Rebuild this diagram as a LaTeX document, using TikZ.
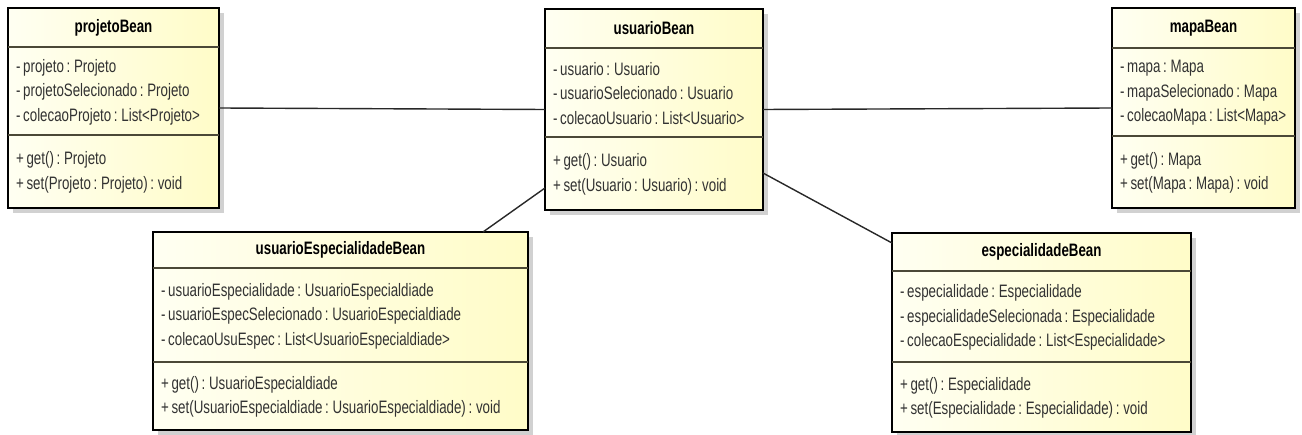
\documentclass[tikz,border=0pt]{standalone}
\usepackage{fontspec}
\setmainfont{Liberation Sans}[FakeStretch=0.74, WordSpace=0.7]
\usetikzlibrary{calc}

\definecolor{boxleft}{RGB}{255,255,242}
\definecolor{boxright}{RGB}{255,252,200}
\definecolor{membercol}{RGB}{50,50,50}
\definecolor{linkcol}{RGB}{40,40,40}
\definecolor{sepcol}{RGB}{75,72,55}

\tikzset{
  classbox/.style={draw=black, line width=2.4pt, inner sep=0pt, outer sep=0pt,
    left color=boxleft, right color=boxright},
  shadowbox/.style={fill=black!18},
  sepline/.style={draw=sepcol, line width=1.4pt},
  titletext/.style={font={\fontsize{18}{20}\selectfont\bfseries}, text=black, inner sep=0pt},
  membertext/.style={font={\fontsize{18}{24.5}\selectfont}, text=membercol, inner sep=0pt,
    align=left, anchor=west},
  assoc/.style={draw=linkcol, line width=1.4pt},
}

% class box: name, x1, y1, x2, y2, header separator y, attribute separator y
\newcommand{\classframe}[7]{%
  \fill[shadowbox] ({#2+5},{#3+5}) rectangle ({#4+5},{#5+5});
  \node[classbox, minimum width={#4-#2}, minimum height={#5-#3}] (#1)
    at ({(#2+#4)/2},{(#3+#5)/2}) {};
  \draw[sepline] (#2,#6) -- (#4,#6);
  \draw[sepline] (#2,#7) -- (#4,#7);
  \coordinate (#1-t) at ({(#2+#4)/2},{(#3+#6)/2});
  \coordinate (#1-a) at ({#2+8},{(#6+#7)/2+1});
  \coordinate (#1-o) at ({#2+8},{(#7+#5)/2+1});
}

\begin{document}
\begin{tikzpicture}[x=1pt, y=-1pt]
  \useasboundingbox[fill=white] (0,0) rectangle (1302,435);

  % geometry of the five classes
  \classframe{pb}{8}{8}{219}{208}{47}{135}
  \classframe{ub}{545}{9}{763}{210}{48}{137}
  \classframe{mb}{1112}{8}{1295}{208}{48}{136}
  \classframe{ue}{153}{232}{528}{430}{268}{362}
  \classframe{es}{892}{233}{1191}{432}{271}{362}

  % associations
  \draw[assoc] (pb.east) -- (ub.west);
  \draw[assoc] (ub.east) -- (mb.west);
  \draw[assoc] ($(ub.south west)+(0,-22)$) -- ($(ue.north east)+(-45,0)$);
  \draw[assoc] ($(ub.south east)+(0,-37)$) -- ($(es.north west)+(0,10)$);

  % projetoBean
  \node[titletext] (pb-title) at (pb-t) {projetoBean};
  \node[membertext] (pb-attrs) at (pb-a)
    {- projeto : Projeto\\- projetoSelecionado : Projeto\\- colecaoProjeto : List<Projeto>};
  \node[membertext] (pb-ops) at (pb-o)
    {+ get() : Projeto\\+ set(Projeto : Projeto) : void};

  % usuarioBean
  \node[titletext] (ub-title) at (ub-t) {usuarioBean};
  \node[membertext] (ub-attrs) at (ub-a)
    {- usuario : Usuario\\- usuarioSelecionado : Usuario\\- colecaoUsuario : List<Usuario>};
  \node[membertext] (ub-ops) at (ub-o)
    {+ get() : Usuario\\+ set(Usuario : Usuario) : void};

  % mapaBean
  \node[titletext] (mb-title) at (mb-t) {mapaBean};
  \node[membertext] (mb-attrs) at (mb-a)
    {- mapa : Mapa\\- mapaSelecionado : Mapa\\- colecaoMapa : List<Mapa>};
  \node[membertext] (mb-ops) at (mb-o)
    {+ get() : Mapa\\+ set(Mapa : Mapa) : void};

  % usuarioEspecialidadeBean
  \node[titletext] (ue-title) at (ue-t) {usuarioEspecialidadeBean};
  \node[membertext] (ue-attrs) at (ue-a)
    {- usuarioEspecialidade : UsuarioEspecialdiade\\- usuarioEspecSelecionado : UsuarioEspecialdiade\\- colecaoUsuEspec : List<UsuarioEspecialdiade>};
  \node[membertext] (ue-ops) at (ue-o)
    {+ get() : UsuarioEspecialdiade\\+ set(UsuarioEspecialdiade : UsuarioEspecialdiade) : void};

  % especialidadeBean
  \node[titletext] (es-title) at (es-t) {especialidadeBean};
  \node[membertext] (es-attrs) at (es-a)
    {- especialidade : Especialidade\\- especialidadeSelecionada : Especialidade\\- colecaoEspecialidade : List<Especialidade>};
  \node[membertext] (es-ops) at (es-o)
    {+ get() : Especialidade\\+ set(Especialidade : Especialidade) : void};
\end{tikzpicture}
\end{document}
